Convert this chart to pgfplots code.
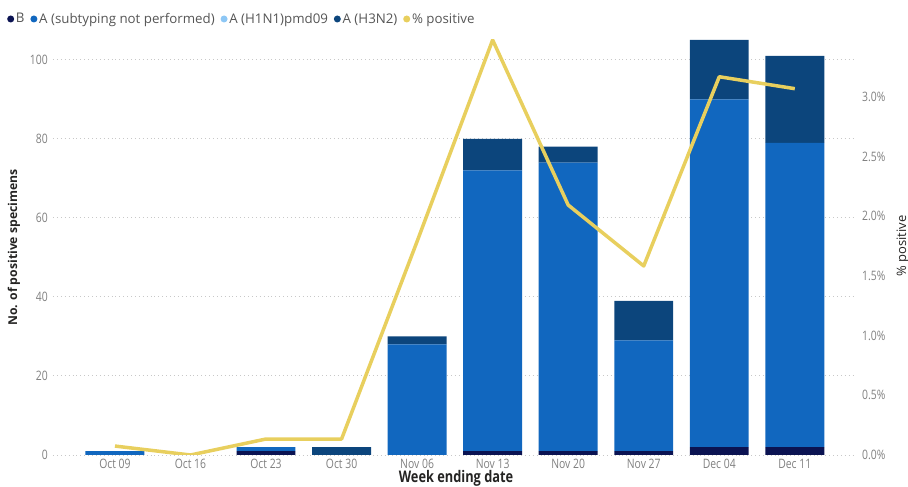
\documentclass[border=0pt]{standalone}
\usepackage{pgfplots}
\usepackage{pgfplotstable}
\pgfplotsset{compat=1.18}
\usepackage{fontspec}
\setmainfont[FakeStretch=0.8]{Open Sans}
\newfontfamily\widefont{Open Sans}
\definecolor{cB}{HTML}{0B1352}
\definecolor{cA}{HTML}{1167BF}
\definecolor{cHone}{HTML}{8DC7F5}
\definecolor{cHthree}{HTML}{0C457C}
\definecolor{cPos}{HTML}{E8CF5E}
\definecolor{tickgray}{HTML}{808080}
\definecolor{gridgray}{HTML}{C8C8C8}
\definecolor{leggray}{HTML}{555555}
\definecolor{titleblack}{HTML}{252423}
\pgfplotsset{
  dotlegend/.style={legend image code/.code={\fill[##1,draw=none] (3.5pt,0pt) circle (3.5pt);}},
}
\pgfplotstableread{
x B A H3
0 0 1 0
1 0 0 0
2 1 1 0
3 0 0 2
4 0 28 2
5 1 71 8
6 1 73 4
7 1 28 10
8 2 88 15
9 2 77 22
}\bars
\pgfplotstableread{
x p
0 0.075
1 0.0
2 0.134
3 0.134
4 1.79
5 3.478
6 2.095
7 1.584
8 3.17
9 3.07
}\pos
\begin{document}
\begin{tikzpicture}
\useasboundingbox (0,0) rectangle (908pt,487pt);
\begin{axis}[
  at={(53pt,32pt)}, anchor=south west, scale only axis,
  width=803pt, height=415pt,
  ybar stacked, bar width=0.78,
  every axis plot post/.append style={dotlegend},
  xmin=-0.82, xmax=9.81, ymin=0, ymax=105,
  xtick={0,...,9},
  xticklabels={Oct 09,Oct 16,Oct 23,Oct 30,Nov 06,Nov 13,Nov 20,Nov 27,Dec 04,Dec 11},
  ytick={0,20,40,60,80,100},
  axis x line*=bottom, axis y line*=left, axis line style={draw=none},
  major tick length=0pt,
  ymajorgrids, grid style={gridgray, line width=0.9pt, dash pattern=on 0.9pt off 3pt},
  /pgf/number format/assume math mode=true,
  tick label style={font=\fontsize{13}{15}\selectfont, text=tickgray},
  yticklabel style={inner sep=0pt, anchor=east, xshift=-5pt},
  xticklabel style={inner sep=0pt, anchor=north, yshift=-4pt},
  xlabel={Week ending date},
  xlabel style={font=\bfseries\fontsize{16}{18}\selectfont, text=titleblack, at={(axis description cs:0.5019,-0.0555)}, anchor=center},
  ylabel={No. of positive specimens},
  ylabel style={font=\widefont\bfseries\fontsize{12.2}{14}\selectfont, text=titleblack, at={(axis description cs:-0.0486,0.5)}, anchor=center},
  legend columns=-1,
  legend style={draw=none, fill=none, inner sep=0pt, at={(axis description cs:-0.0573,1.0506)}, anchor=west,
    font=\widefont\fontsize{13.3}{15}\selectfont, text=leggray,
    nodes={inner sep=1.8pt},
    /tikz/every even column/.append style={column sep=4pt}},
  legend cell align=left,
]
\addplot[fill=cB, draw=none] table[x=x,y=B]{\bars};
\addlegendentry{B}
\addplot[fill=cA, draw=none] table[x=x,y=A]{\bars};
\addlegendentry{A (subtyping not performed)}
\addlegendimage{dotlegend, fill=cHone}
\addlegendentry{A (H1N1)pmd09}
\addplot[fill=cHthree, draw=none] table[x=x,y=H3]{\bars};
\addlegendentry{A (H3N2)}
\addlegendimage{dotlegend, fill=cPos}
\addlegendentry{\% positive}
\end{axis}
\begin{axis}[
  at={(53pt,32pt)}, anchor=south west, scale only axis,
  width=803pt, height=415pt,
  xmin=-0.82, xmax=9.81, ymin=0, ymax=3.478,
  axis y line*=right, axis x line=none, axis line style={draw=none},
  major tick length=0pt,
  ytick={0,0.5,1,1.5,2,2.5,3},
  yticklabel={\pgfmathprintnumber[fixed,fixed zerofill,precision=1]{\tick}\%},
  /pgf/number format/assume math mode=true,
  tick label style={font=\fontsize{13}{15}\selectfont, text=tickgray},
  yticklabel style={inner sep=0pt, anchor=west, xshift=6pt},
  ylabel={\% positive},
  ylabel style={font=\widefont\fontsize{13}{15}\selectfont, text=titleblack, at={(axis description cs:1.0585,0.5036)}, anchor=center},
]
\addplot[cPos, line width=3.5pt, line join=round, mark=none] table[x=x,y=p]{\pos};
\end{axis}
\end{tikzpicture}
\end{document}
